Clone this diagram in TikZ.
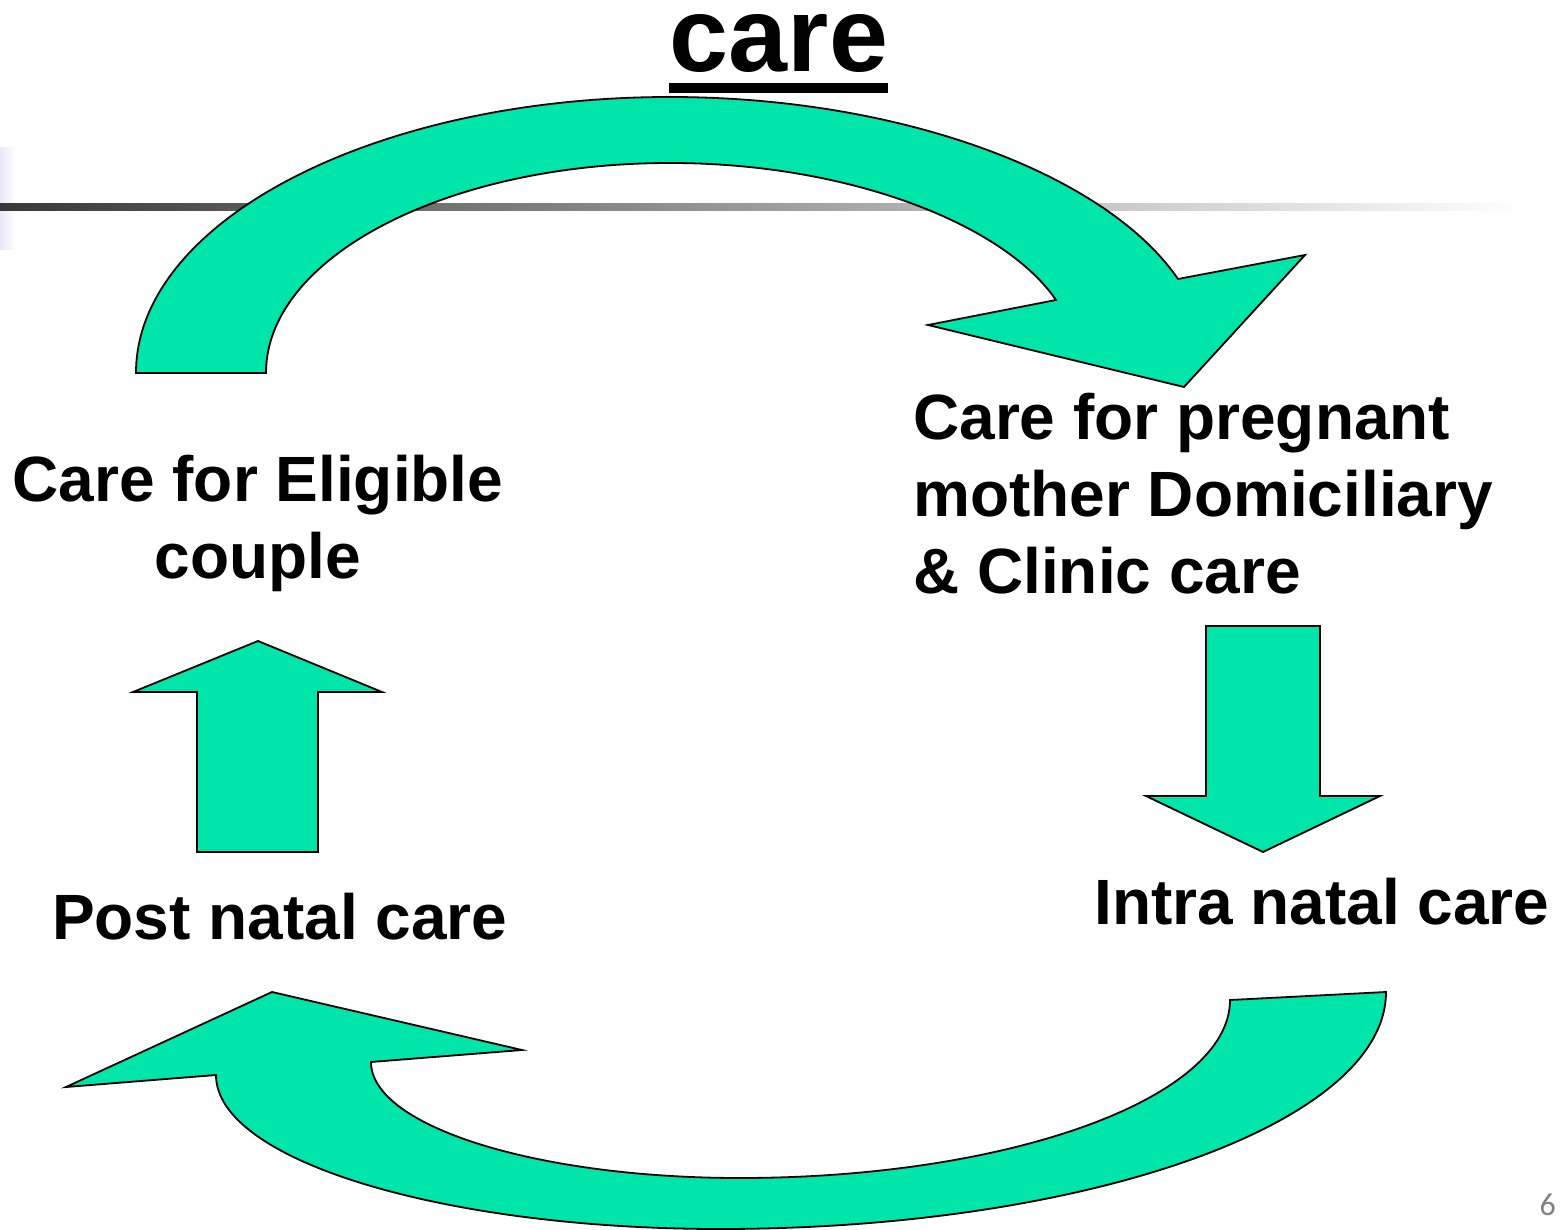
\documentclass[tikz,border=0pt]{standalone}
\usepackage{fontspec}
\setmainfont{Liberation Sans}
\newfontfamily\pagefont{Carlito}
\definecolor{arrowgreen}{RGB}{0,229,170}
\definecolor{lineleft}{RGB}{56,56,56}
\definecolor{linemid}{RGB}{208,208,208}
\definecolor{lavender}{RGB}{232,232,248}
\begin{document}
\begin{tikzpicture}[x=1pt,y=-1pt,
  blockarrow/.style={fill=arrowgreen,draw=black,line width=1.8pt,line join=miter},
  label/.style={inner sep=0pt,font=\fontsize{64}{77}\selectfont\bfseries},
  titletext/.style={inner sep=0pt,font=\fontsize{106}{120}\selectfont\bfseries}]
\useasboundingbox (0,0) rectangle (1565,1230);
\fill[white] (0,0) rectangle (1565,1230);
% decorative header line
\shade[left color=lavender,right color=white] (0,148) rectangle (16,250);
\shade[left color=lineleft,middle color=linemid,right color=white] (0,204) rectangle (1520,211);
% title
\node[titletext,anchor=base] (title) at (779,72) {care};
\fill[black] (669,83) rectangle (888,93);
% top curved arrow
\draw[blockarrow] (136,373)
  .. controls (136,221) and (375,97) .. (670,97)
  .. controls (901,97) and (1106,174) .. (1178,279)
  -- (1305,255) -- (1184,387) -- (928,325) -- (1056,300)
  .. controls (1003,223) and (847,163) .. (670,163)
  .. controls (447,163) and (266,257) .. (266,373)
  -- cycle;
% down arrow (right)
\draw[blockarrow] (1206,626) -- (1320,626) -- (1320,796) -- (1380,796)
  -- (1263,852) -- (1146,796) -- (1206,796) -- cycle;
% up arrow (left)
\draw[blockarrow] (197,852) -- (197,692) -- (133,692) -- (258,641)
  -- (382,692) -- (318,692) -- (318,852) -- cycle;
% bottom curved arrow
\draw[blockarrow] (1230,1000) -- (1386,992)
  .. controls (1386,1123) and (1088,1229) .. (720,1229)
  .. controls (442,1229) and (216,1160) .. (216,1075)
  -- (66,1087) -- (272,992) -- (522,1050) -- (371,1062)
  .. controls (371,1126) and (536,1178) .. (740,1178)
  .. controls (1010,1178) and (1230,1098) .. (1230,1000)
  -- cycle;
% labels
\node[label,anchor=base,align=center] (eligible) at (258,578) {Care for Eligible\\couple};
\node[label,anchor=base west,align=left] (pregnant) at (913,593) {Care for pregnant\\mother Domiciliary\\\& Clinic care};
\node[label,anchor=base west] (post) at (52,939) {Post natal care};
\node[label,anchor=base west] (intra) at (1094,924) {Intra natal care};
\node[inner sep=0pt,anchor=base east,text=gray,font=\pagefont\fontsize{32}{36}\selectfont] (page) at (1556,1215) {6};
\end{tikzpicture}
\end{document}
